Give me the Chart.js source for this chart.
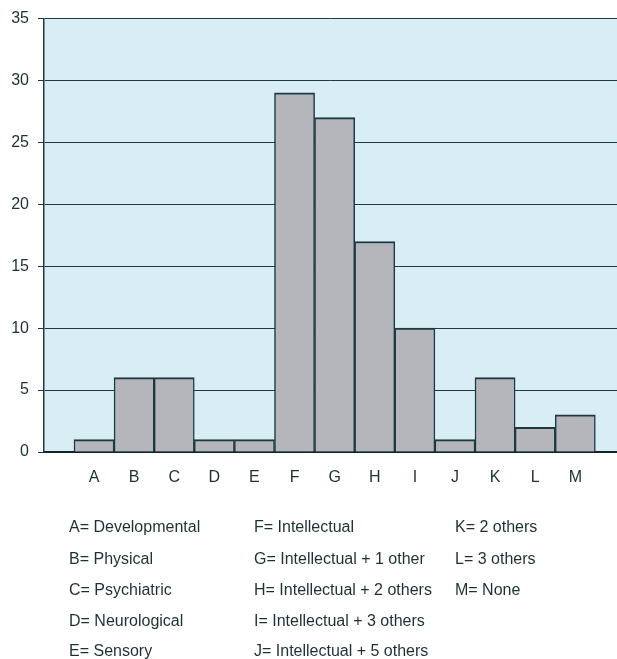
<!DOCTYPE html>
<html>
<head>
<meta charset="utf-8">
<script src="https://cdn.jsdelivr.net/npm/chart.js@4.4.1/dist/chart.umd.min.js"></script>
<style>
  html, body { margin: 0; padding: 0; background: #ffffff; }
  #wrap { position: relative; width: 617px; height: 659px; overflow: hidden; }
  #c { position: absolute; left: 0; top: 0; }
  .lg { position: absolute; font-family: "Liberation Sans", Arial, sans-serif; font-size: 16px; color: #1d3034; white-space: nowrap; line-height: 18px; }
</style>
</head>
<body>
<div id="wrap">
  <canvas id="c" width="617" height="659"></canvas>
  <div id="legend"></div>
</div>
<script>
// ---- data ----
const categories = ["A", "B", "C", "D", "E", "F", "G", "H", "I", "J", "K", "L", "M"];
const counts = [1, 6, 6, 1, 1, 29, 27, 17, 10, 1, 6, 2, 3];
const yTicks = [0, 5, 10, 15, 20, 25, 30, 35];
const legendCol1 = ["A= Developmental", "B= Physical", "C= Psychiatric", "D= Neurological", "E= Sensory"];
const legendCol2 = ["F= Intellectual", "G= Intellectual + 1 other", "H= Intellectual + 2 others", "I= Intellectual + 3 others", "J= Intellectual + 5 others"];
const legendCol3 = ["K= 2 others", "L= 3 others", "M= None"];

// ---- legend text (HTML) ----
const legendCols = [legendCol1, legendCol2, legendCol3];
const colX = [69, 254, 455];
const rowY = [518, 550, 581, 612, 642];
const lg = document.getElementById('legend');
legendCols.forEach((col, ci) => {
  col.forEach((t, ri) => {
    const d = document.createElement('div');
    d.className = 'lg';
    d.style.left = colX[ci] + 'px';
    d.style.top = rowY[ri] + 'px';
    d.textContent = t;
    lg.appendChild(d);
  });
});

const DARK = '#1c3a40';
const plotBg = {
  id: 'plotBg',
  beforeDraw(chart) {
    const {ctx, chartArea: a} = chart;
    ctx.save();
    ctx.fillStyle = '#d8eef4';
    ctx.fillRect(a.left, a.top, a.right - a.left, a.bottom - a.top);
    ctx.restore();
  }
};

new Chart(document.getElementById('c'), {
  type: 'bar',
  data: {
    datasets: [{
      data: categories.map((c, i) => ({ x: i + 1, y: counts[i] })),
      backgroundColor: '#b4b6bb',
      borderColor: DARK,
      borderWidth: { top: 2, left: 1.5, right: 1.5, bottom: 0 },
      borderSkipped: false,
      barPercentage: 1.0,
      categoryPercentage: 1.0
    }]
  },
  options: {
    responsive: false,
    animation: false,
    devicePixelRatio: 1,
    layout: { padding: { top: 18, right: 0, left: 0, bottom: 0 } },
    plugins: { legend: { display: false }, tooltip: { enabled: false }, title: { display: false } },
    scales: {
      x: {
        type: 'linear',
        offset: false,
        min: -0.247,
        max: 14.04,
        afterBuildTicks(scale) { scale.ticks = categories.map((c, i) => ({ value: i + 1 })); },
        afterFit(scale) { scale.height = 659 - 452; },
        ticks: {
          autoSkip: false,
          maxRotation: 0,
          padding: 16,
          color: '#1d3034',
          font: { family: '"Liberation Sans", Arial, sans-serif', size: 16 },
          callback: (v) => categories[v - 1] || ''
        },
        grid: { drawOnChartArea: false, drawTicks: false, color: 'transparent' },
        border: { display: true, color: '#10262a', width: 2 }
      },
      y: {
        min: 0,
        max: 35,
        afterBuildTicks(scale) { scale.ticks = yTicks.map(v => ({ value: v })); },
        afterFit(scale) { scale.width = 44; },
        ticks: {
          padding: 9,
          color: '#1d3034',
          font: { family: '"Liberation Sans", Arial, sans-serif', size: 16 }
        },
        grid: { color: DARK, lineWidth: 1, tickLength: 6, tickColor: DARK },
        border: { display: true, color: DARK, width: 1.5 }
      }
    }
  },
  plugins: [plotBg]
});
</script>
</body>
</html>
